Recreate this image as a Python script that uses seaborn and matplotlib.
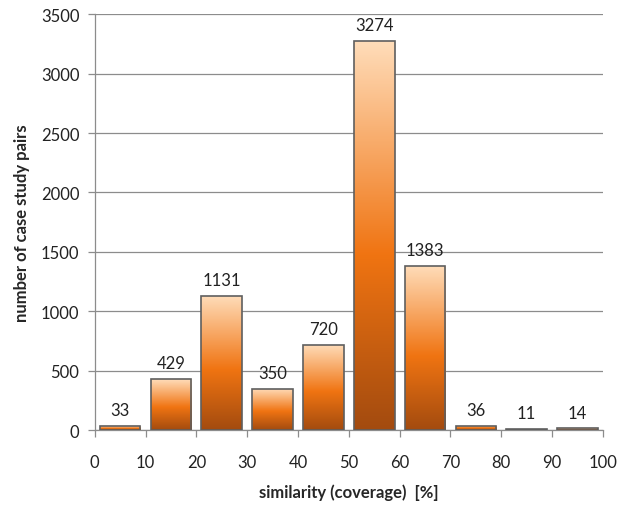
import numpy as np
import pandas as pd
import matplotlib
matplotlib.use('Agg')
import matplotlib.pyplot as plt
from matplotlib.colors import LinearSegmentedColormap
import seaborn as sns

# Data
bin_centers = [5, 15, 25, 35, 45, 55, 65, 75, 85, 95]
counts = [33, 429, 1131, 350, 720, 3274, 1383, 36, 11, 14]
x_ticks = [0, 10, 20, 30, 40, 50, 60, 70, 80, 90, 100]
y_ticks = [0, 500, 1000, 1500, 2000, 2500, 3000, 3500]

sns.set_style('white')
plt.rcParams['font.family'] = ['Lato', 'DejaVu Sans']

df = pd.DataFrame({'similarity': bin_centers, 'pairs': counts})

fig = plt.figure(figsize=(6.19, 5.06), dpi=100)
ax = fig.add_axes([0.153, 0.148, 0.821, 0.822])

sns.barplot(data=df, x='similarity', y='pairs', native_scale=True, width=0.8,
            color='#F07412', edgecolor='#5f5f5f', linewidth=1.2, ax=ax, zorder=3)

# vertical gradient inside every bar
grad_cmap = LinearSegmentedColormap.from_list(
    'peach', [(0.0, '#A34B0F'), (0.45, '#F07412'), (1.0, '#FFDDBA')])
grad = np.linspace(0, 1, 256).reshape(-1, 1)
for bar in ax.patches:
    x0, y0 = bar.get_x(), bar.get_y()
    w, h = bar.get_width(), bar.get_height()
    im = ax.imshow(grad, cmap=grad_cmap, origin='lower', aspect='auto',
                   extent=[x0, x0 + w, y0, y0 + h], zorder=3.5)
    im.set_clip_path(bar)
    bar.set_facecolor('none')
    bar.set_zorder(4)

for xc, v in zip(bin_centers, counts):
    ax.text(xc, v + 65, str(v), ha='center', va='bottom', fontsize=12,
            color='#222222', zorder=5)

ax.set_xlim(0, 100)
ax.set_ylim(0, 3500)
ax.set_xticks(x_ticks)
ax.set_yticks(y_ticks)
ax.set_xticklabels([str(t) for t in x_ticks], fontsize=12, color='#222222')
ax.set_yticklabels([str(t) for t in y_ticks], fontsize=12, color='#222222')
ax.yaxis.grid(True, color='#8c8c8c', linewidth=0.9, zorder=0)
ax.xaxis.grid(False)
ax.tick_params(axis='both', direction='out', length=5, width=0.9, color='#8c8c8c',
               left=True, bottom=True, pad=6)
ax.tick_params(axis='x', pad=12)
sns.despine(ax=ax, top=True, right=True)
for s in ['left', 'bottom']:
    ax.spines[s].set_color('#8c8c8c')
    ax.spines[s].set_linewidth(0.9)

ax.set_xlabel('similarity (coverage)  [%]', fontsize=12, fontweight='bold', labelpad=10)
ax.set_ylabel('number of case study pairs', fontsize=12, fontweight='bold', labelpad=8)

fig.savefig('out.png', dpi=100)
